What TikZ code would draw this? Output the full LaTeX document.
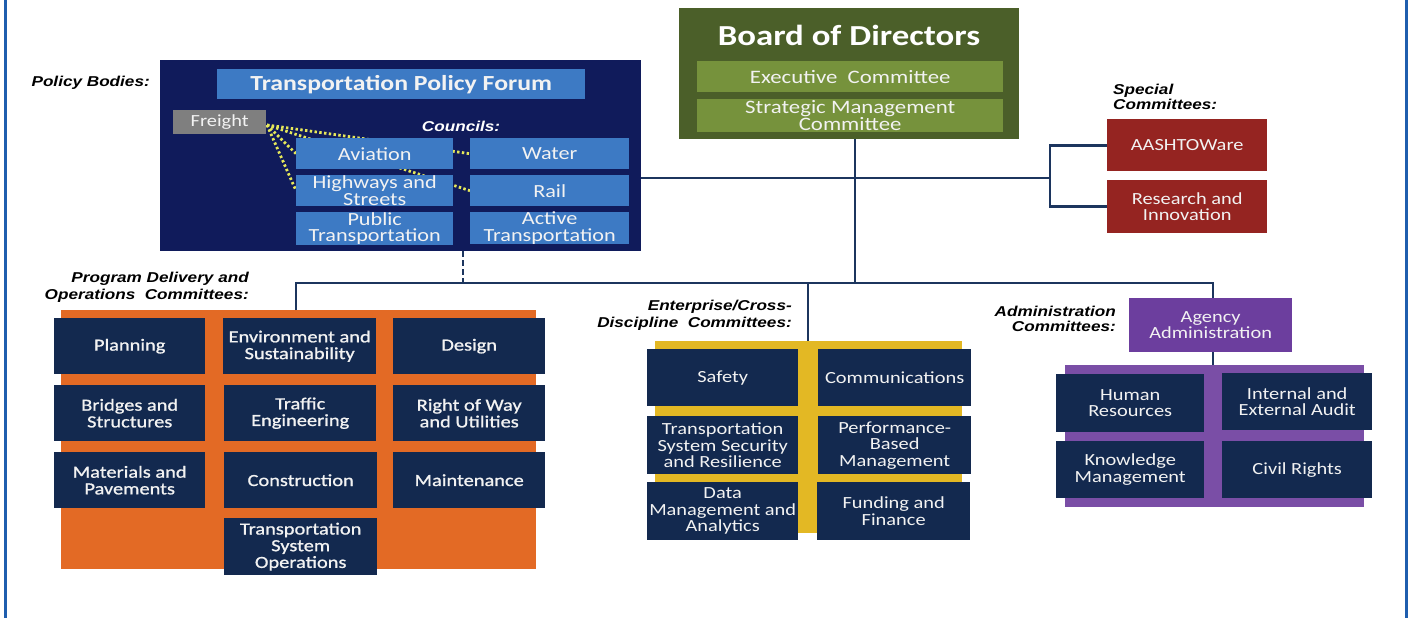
\documentclass[tikz,border=0pt]{standalone}
\usepackage{fontspec}
\newfontfamily\cfont[FakeStretch=1.2]{Carlito}
\newfontfamily\cfontb[FakeStretch=1.2,FakeBold=1]{Carlito}
\newfontfamily\lfont[FakeStretch=1.2]{Liberation Sans}

\definecolor{navybox}{HTML}{13294F}
\definecolor{policybg}{HTML}{101B5B}
\definecolor{council}{HTML}{3D7AC4}
\definecolor{freightgray}{HTML}{7F7F7F}
\definecolor{boardgreen}{HTML}{4B5F29}
\definecolor{lightgreen}{HTML}{76923C}
\definecolor{specialred}{HTML}{952421}
\definecolor{progorange}{HTML}{E36A25}
\definecolor{entyellow}{HTML}{E3B824}
\definecolor{adminpurple}{HTML}{7A4EA6}
\definecolor{agencypurple}{HTML}{6C3E9E}
\definecolor{linknavy}{HTML}{1C355E}
\definecolor{framebl}{HTML}{1F5EAE}
\definecolor{dotyellow}{HTML}{E6E85A}
\definecolor{softwhite}{HTML}{F2F2F2}

\pgfdeclarelayer{bg}
\pgfdeclarelayer{mid}
\pgfsetlayers{bg,mid,main}

\tikzset{
  wh/.style 2 args={minimum width=#1pt, minimum height=#2pt},
  bx/.style={anchor=north west, inner sep=0pt, align=center, text=softwhite,
    font=\cfont\fontsize{17}{16.5}\selectfont},
  nbox/.style={bx, fill=navybox},
  prog/.style={bx, fill=navybox, font=\cfontb\fontsize{17}{16.7}\selectfont},
  coun/.style={bx, fill=council, font=\cfont\fontsize{18.5}{16.5}\selectfont},
  spec/.style={bx, fill=specialred},
  panel/.style={anchor=north west, inner sep=0pt},
  lab/.style={inner sep=0pt, align=right, text=black,
    font=\lfont\bfseries\itshape\fontsize{14.3}{17}\selectfont},
  link/.style={draw=linknavy, line width=2.7pt},
  dotlink/.style={draw=dotyellow, line width=2.8pt, dash pattern=on 2.4pt off 2.4pt},
}

\begin{document}
\begin{tikzpicture}[x=1pt, y=-1pt]
\useasboundingbox (0,0) rectangle (1409,618);

% page frame
\draw[framebl, line width=3pt] (5.5,0) -- (5.5,618);
\draw[framebl, line width=3pt] (1406.5,0) -- (1406.5,618);

% group panels
\begin{pgfonlayer}{bg}
  \node[panel, fill=policybg, wh={481}{191}] (policy) at (160,60) {};
  \node[panel, fill=progorange, wh={475}{259}] (progpanel) at (61,310) {};
  \node[panel, fill=entyellow, wh={307}{192}] (entpanel) at (655,341) {};
  \node[panel, fill=adminpurple, wh={299}{142}] (adminpanel) at (1065,365) {};
\end{pgfonlayer}

% Board of Directors
\node[panel, fill=boardgreen, wh={340}{131}] (board) at (679,8) {};
\node[text=white, inner sep=0pt, font=\cfont\bfseries\fontsize{29}{30}\selectfont] (boardtitle) at (849,35) {Board of Directors};
\node[bx, fill=lightgreen, wh={306}{31}, font=\cfont\fontsize{19}{16}\selectfont] (exec) at (697,61) {Executive\ \ Committee};
\node[bx, fill=lightgreen, wh={306}{33}, font=\cfont\fontsize{19}{16}\selectfont] (strat) at (697,99) {Strategic Management\\Committee};

% Policy bodies
\node[lab, anchor=east] (policylab) at (150,83) {Policy Bodies:};
\node[bx, fill=council, wh={368}{30}, font=\cfont\bfseries\fontsize{21.5}{22}\selectfont] (tpf) at (217,69) {Transportation Policy Forum};
\node[bx, fill=freightgray, wh={93}{24}] (freight) at (173,110) {Freight};
\node[lab, text=white, anchor=center] (councils) at (461,126) {Councils:};
\node[coun, wh={157}{31}] (aviation) at (296,138) {Aviation};
\node[coun, wh={159}{31}] (water) at (470,138) {Water};
\node[coun, wh={157}{31}] (highways) at (296,175) {Highways and\\Streets};
\node[coun, wh={159}{31}] (rail) at (470,175) {Rail};
\node[coun, wh={157}{31}] (public) at (296,212) {Public\\Transportation};
\node[coun, wh={159}{31}] (active) at (470,212) {Active\\Transportation};

\coordinate (fr) at (267,125);
\begin{pgfonlayer}{mid}
  \draw[dotlink] (fr) -- (aviation.west);
  \draw[dotlink] (fr) -- (highways.west);
  \draw[dotlink] (fr) -- (water.west);
  \draw[dotlink] (fr) -- (rail.west);
\end{pgfonlayer}

% Special committees
\node[lab, align=left, anchor=west, font=\lfont\bfseries\itshape\fontsize{14.3}{14.5}\selectfont] (speciallab) at (1113,97) {Special\\Committees:};
\node[spec, wh={160}{52}] (aashto) at (1107,119) {AASHTOWare};
\node[spec, wh={160}{53}] (research) at (1107,180) {Research and\\Innovation};

% Program delivery and operations
\node[lab, anchor=east] (proglab) at (249,287) {Program Delivery and\\Operations\ \ Committees:};
\node[prog, wh={151}{56}] (planning) at (54,318) {Planning};
\node[prog, wh={153}{56}] (environment) at (223,318) {Environment and\\Sustainability};
\node[prog, wh={152}{56}] (design) at (393,318) {Design};
\node[prog, wh={151}{56}] (bridges) at (54,385) {Bridges and\\Structures};
\node[prog, wh={152}{56}] (traffic) at (224,385) {Traffic\\Engineering};
\node[prog, wh={152}{56}] (row) at (393,385) {Right of Way\\and Utilities};
\node[prog, wh={151}{56}] (materials) at (54,452) {Materials and\\Pavements};
\node[prog, wh={153}{56}] (construction) at (224,452) {Construction};
\node[prog, wh={152}{56}] (maintenance) at (393,452) {Maintenance};
\node[prog, wh={153}{57}] (tso) at (224,518) {Transportation\\System\\Operations};

% Enterprise / cross-discipline
\node[lab, anchor=east] (entlab) at (792,315) {Enterprise/Cross-\\Discipline\ \ Committees:};
\node[nbox, wh={151}{57}] (safety) at (647,349) {Safety};
\node[nbox, wh={153}{57}] (comm) at (818,349) {Communications};
\node[nbox, wh={151}{58}] (security) at (647,416) {Transportation\\System Security\\and Resilience};
\node[nbox, wh={153}{58}] (perf) at (818,416) {Performance-\\Based\\Management};
\node[nbox, wh={151}{58}] (data) at (647,482) {Data\\Management and\\Analytics};
\node[nbox, wh={153}{58}] (funding) at (817,482) {Funding and\\Finance};

% Administration
\node[lab, anchor=east, font=\lfont\bfseries\itshape\fontsize{14.3}{15.5}\selectfont] (adminlab) at (1116,319) {Administration\\Committees:};
\node[bx, fill=agencypurple, wh={163}{54}] (agency) at (1129,298) {Agency\\Administration};
\node[nbox, wh={148}{58}] (hr) at (1056,374) {Human\\Resources};
\node[nbox, wh={150}{57}] (audit) at (1222,373) {Internal and\\External Audit};
\node[nbox, wh={148}{57}] (knowledge) at (1056,441) {Knowledge\\Management};
\node[nbox, wh={150}{57}] (civil) at (1222,441) {Civil Rights};

% connectors
\coordinate (busL) at (296,283);
\coordinate (busP) at (463,283);
\coordinate (busE) at (808,283);
\coordinate (busB) at (855,283);
\coordinate (busR) at (1213,283);
\coordinate (brk) at (1050,178);

\draw[link] (board.south -| busB) -- (busB);
\draw[link] (progpanel.north -| busL) -- (busL) -- (busR) -- (agency.north -| busR);
\draw[link] (busE) -- (entpanel.north -| busE);
\draw[link] (agency.south -| busR) -- (adminpanel.north -| busR);
\draw[link, dash pattern=on 6pt off 3pt] (policy.south -| busP) -- (busP);
\draw[link] (policy.east |- brk) -- (brk);
\draw[link] (aashto.west) -| (brk) |- (research.west);
\end{tikzpicture}
\end{document}
